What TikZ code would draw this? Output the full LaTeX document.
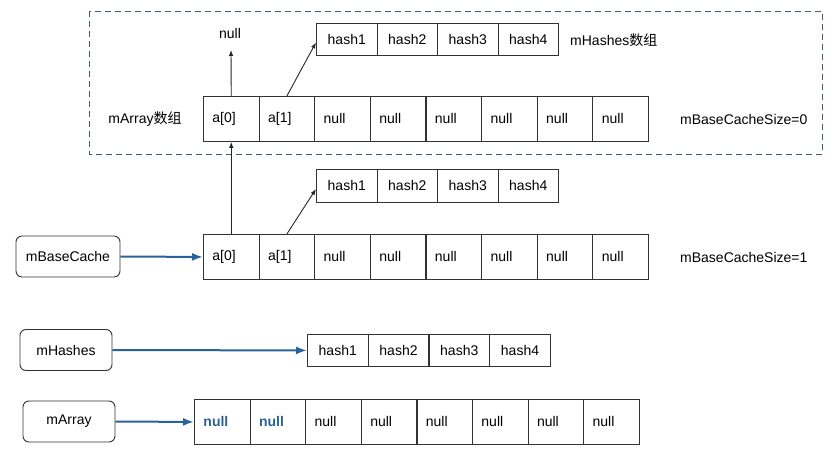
\documentclass[tikz,border=0pt]{standalone}
\usepackage{fontspec}
\setmainfont{Liberation Sans}
\newfontfamily\cjk{Noto Sans CJK SC}
\usetikzlibrary{arrows.meta}
\definecolor{myblue}{RGB}{41,98,152}
\definecolor{dashc}{RGB}{70,90,115}
\begin{document}
\begin{tikzpicture}[x=1pt,y=-1pt,font=\fontsize{14}{16}\selectfont,
  cell/.style={draw=black!80,line width=0.9pt,minimum width=55.6pt,minimum height=45pt,text width=37.6pt,inner xsep=9pt,inner ysep=0pt,align=left,anchor=north west},
  hcell/.style={draw=black!80,line width=0.9pt,minimum width=60.6pt,minimum height=32pt,inner sep=0pt,anchor=north west},
  ptr/.style={draw=black!80,line width=0.9pt,rounded corners=6pt,minimum height=41pt,inner sep=0pt},
  thin/.style={-{Latex[length=6pt,width=4.5pt]},line width=0.9pt,black!85},
  blue/.style={-{Latex[length=11pt,width=8pt]},line width=2pt,myblue},
  lbl/.style={inner sep=0pt}]
\useasboundingbox (0,0) rectangle (834,454);
% dashed frame
\draw[dashc,line width=0.9pt,dash pattern=on 6pt off 4pt] (89,11) rectangle (822,154);
% top array
\foreach \i/\t in {1/{a[0]},2/{a[1]},3/null,4/null,5/null,6/null,7/null,8/null}
  \node[cell] (A\i) at ({203+(\i-1)*55.625},96) {\t};
\draw[line width=1.8pt,black!80] (A4.north east) -- (A4.south east);
\foreach \i in {1,...,4}
  \node[hcell] (HA\i) at ({316+(\i-1)*60.5},23) {hash\i};
\node[lbl] (nullt) at (230,33) {null};
\node[lbl] (marr) at (145,119) {mArray{\cjk 数组}};
\node[lbl,anchor=west] (mhs) at (570,40) {mHashes{\cjk 数组}};
\node[lbl,anchor=west] (s0) at (680,119) {mBaseCacheSize=0};
\draw[thin] (A1.north) -- (231,50);
\draw[thin] (A2.north) -- ([yshift=-3pt]HA1.west);
% middle array
\foreach \i/\t in {1/{a[0]},2/{a[1]},3/null,4/null,5/null,6/null,7/null,8/null}
  \node[cell] (B\i) at ({203+(\i-1)*55.625},234) {\t};
\draw[line width=1.8pt,black!80] (B4.north east) -- (B4.south east);
\foreach \i in {1,...,4}
  \node[hcell,minimum height=33pt] (HB\i) at ({316+(\i-1)*60.5},169) {hash\i};
\node[lbl,anchor=west] (s1) at (680,257) {mBaseCacheSize=1};
\draw[thin] (B1.north) -- (A1.south);
\draw[thin] (B2.north) -- ([yshift=-3pt]HB1.west);
\node[ptr,minimum width=104pt] (mbc) at (68,256.5) {mBaseCache};
\draw[blue] (mbc.east) -- (B1.west);
% mHashes
\foreach \i in {1,...,4}
  \node[hcell] (HC\i) at ({307+(\i-1)*60.75},334) {hash\i};
\node[ptr,minimum width=92pt] (mh) at (66,350) {mHashes};
\draw[blue] (mh.east) -- (HC1.west);
% mArray
\foreach \i/\t in {1/{\textcolor{myblue}{\bfseries null}},2/{\textcolor{myblue}{\bfseries null}},3/null,4/null,5/null,6/null,7/null,8/null}
  \node[cell] (D\i) at ({194+(\i-1)*55.6},399) {\t};
\draw[line width=1.8pt,black!80] (D4.north east) -- (D4.south east);
\node[ptr,minimum width=92pt] (ma) at (69,421.5) {mArray};
\draw[blue] (ma.east) -- (D1.west);
\end{tikzpicture}
\end{document}
